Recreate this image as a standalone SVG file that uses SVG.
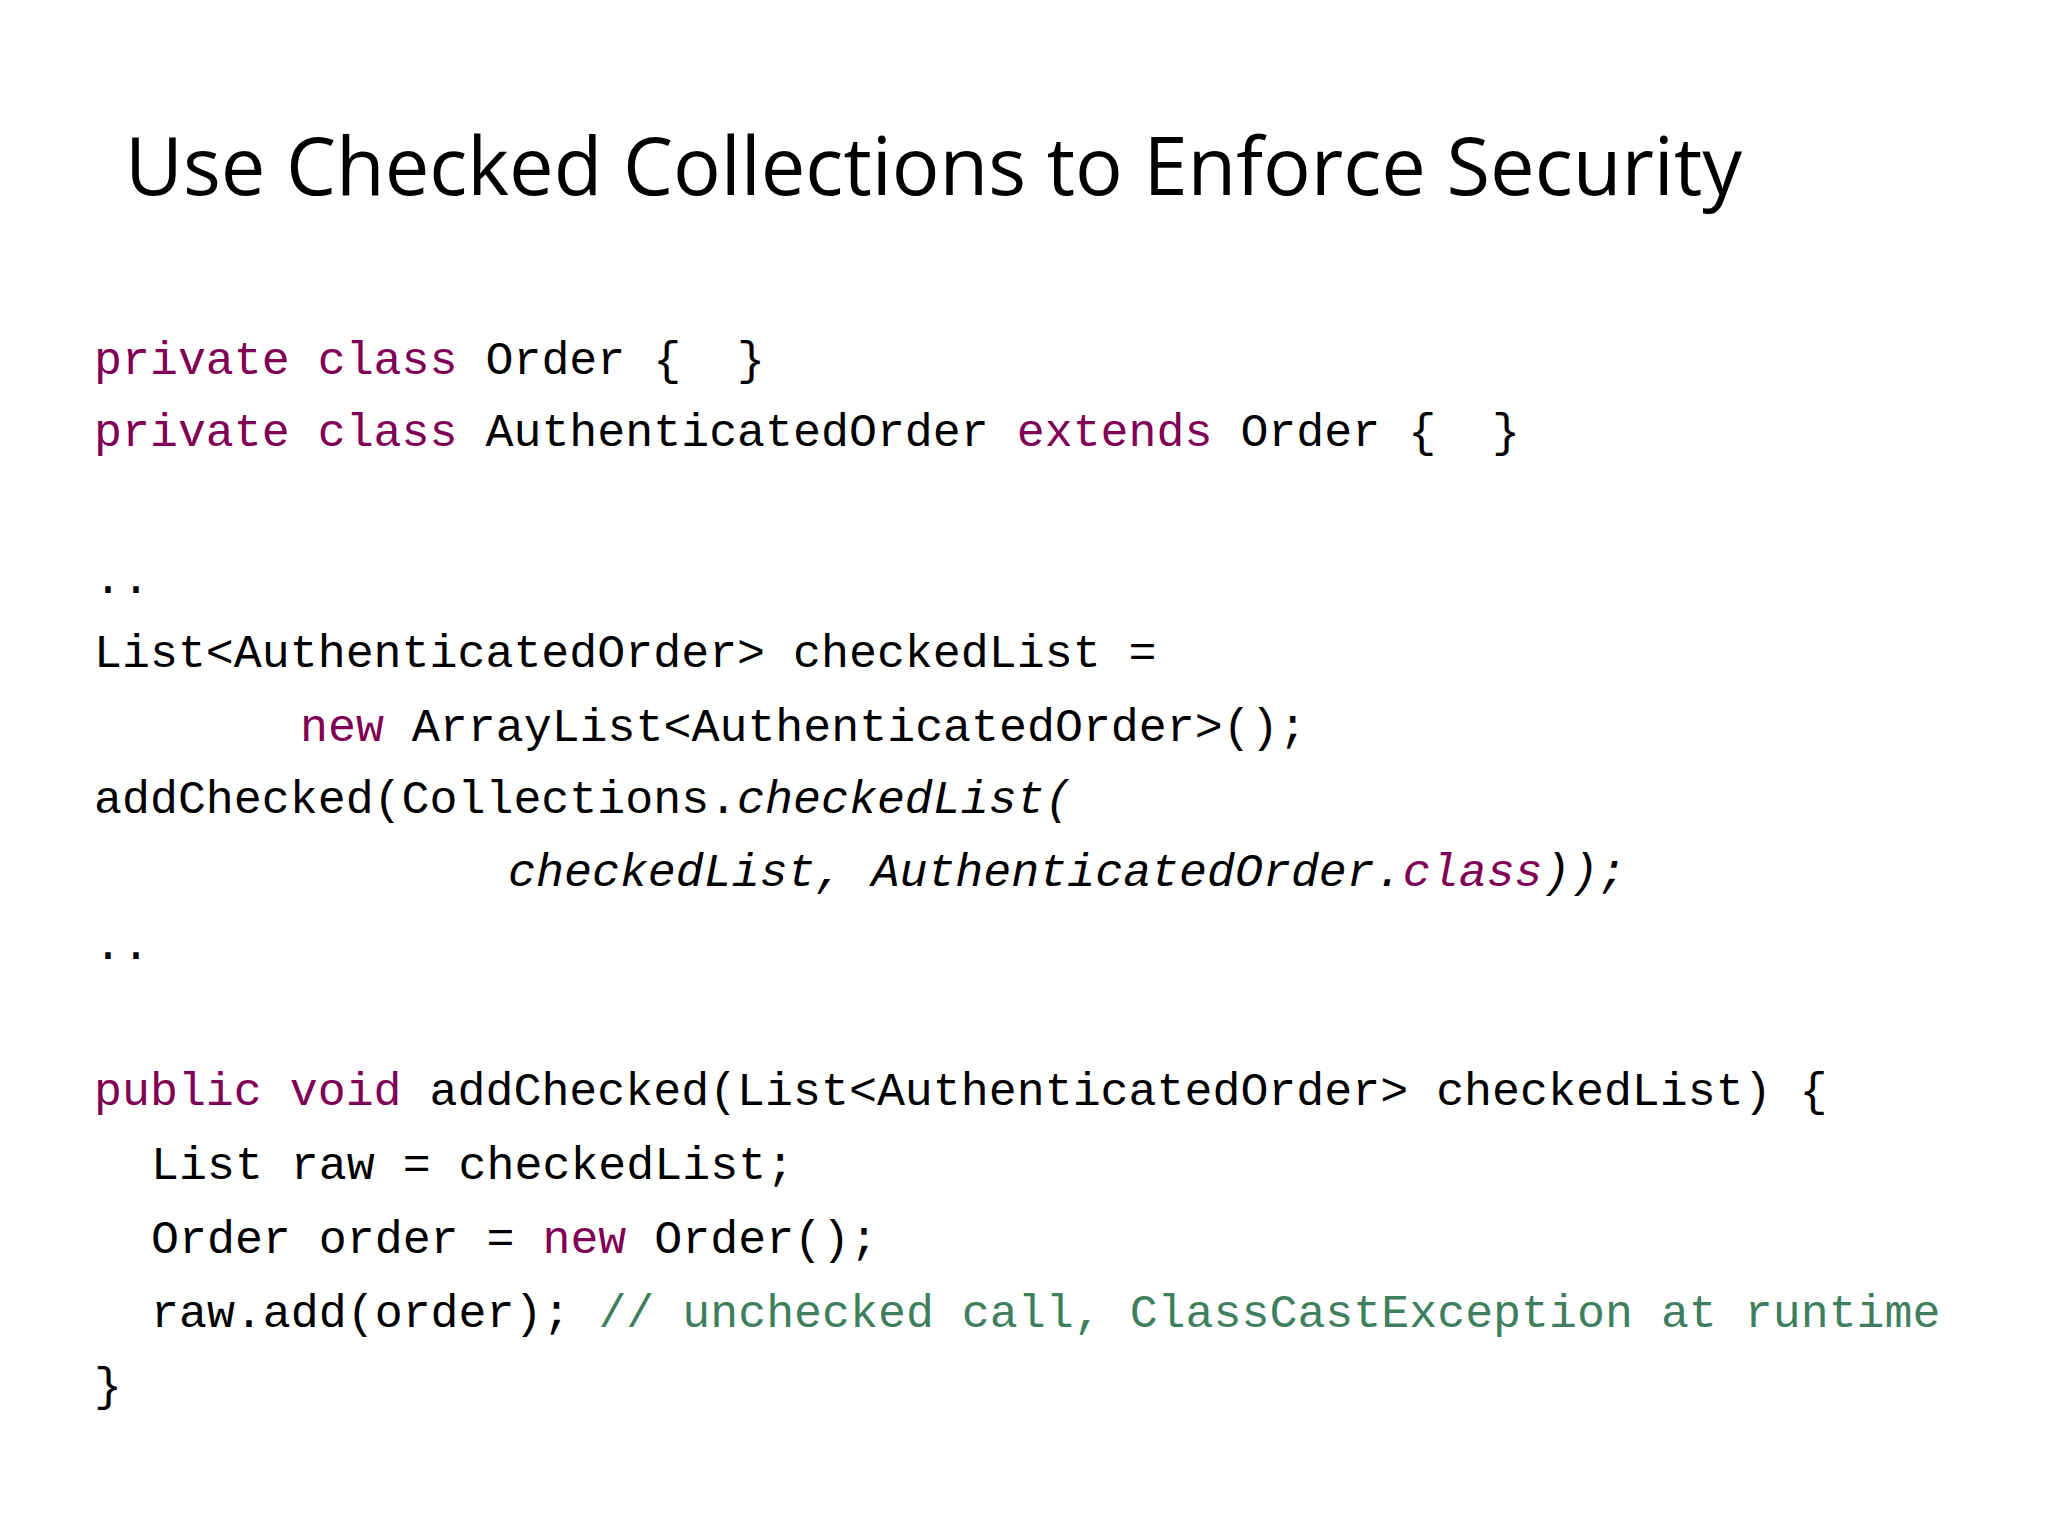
<svg xmlns="http://www.w3.org/2000/svg" width="2048" height="1536" viewBox="0 0 2048 1536">
<style>
.t{font-family:"Open Sans","Liberation Sans",sans-serif;font-size:80px;fill:#000}
.c{font-family:"Liberation Mono","DejaVu Sans Mono",monospace;font-size:46.6px;fill:#000;white-space:pre}
.k{fill:#7f0055}
.g{fill:#3f7f5f}
.i{font-style:italic}
</style>
<rect width="2048" height="1536" fill="#fff"/>
<g id="title"><text class="t" x="125" y="195" textLength="1617" lengthAdjust="spacingAndGlyphs">Use Checked Collections to Enforce Security</text></g>
<g id="code" xml:space="preserve">
<text class="c" x="94" y="374"><tspan class="k">private class</tspan> Order {  }</text>
<text class="c" x="94" y="446"><tspan class="k">private class</tspan> AuthenticatedOrder <tspan class="k">extends</tspan> Order {  }</text>
<text class="c" x="94" y="593">..</text>
<text class="c" x="94" y="667">List&lt;AuthenticatedOrder&gt; checkedList =</text>
<text class="c" x="300" y="741"><tspan class="k">new</tspan> ArrayList&lt;AuthenticatedOrder&gt;();</text>
<text class="c" x="94" y="813">addChecked(Collections.<tspan class="i">checkedList(</tspan></text>
<text class="c i" x="508" y="886">checkedList, AuthenticatedOrder.<tspan class="k">class</tspan>));</text>
<text class="c" x="94" y="959">..</text>
<text class="c" x="94" y="1105"><tspan class="k">public void</tspan> addChecked(List&lt;AuthenticatedOrder&gt; checkedList) {</text>
<text class="c" x="151" y="1179">List raw = checkedList;</text>
<text class="c" x="151" y="1253">Order order = <tspan class="k">new</tspan> Order();</text>
<text class="c" x="151" y="1327">raw.add(order); <tspan class="g">// unchecked call, ClassCastException at runtime</tspan></text>
<text class="c" x="94" y="1400">}</text>
</g>
</svg>
